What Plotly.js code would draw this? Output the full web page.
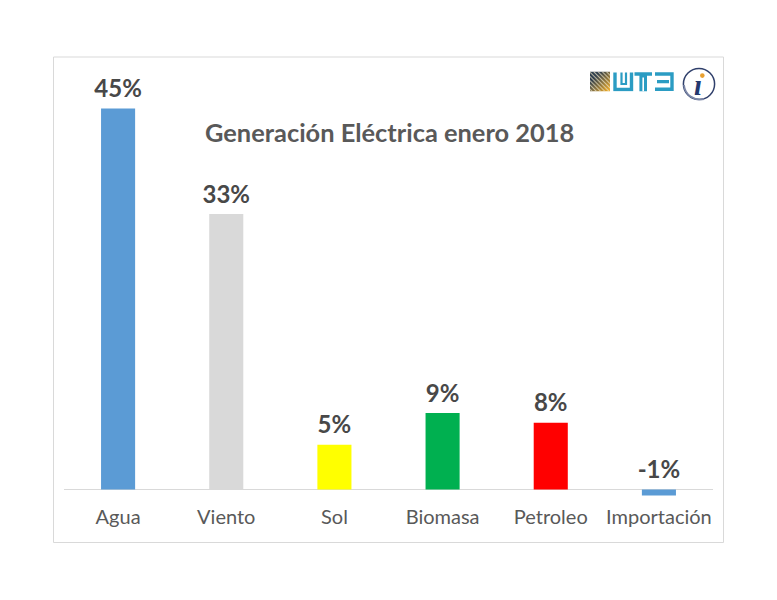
<!DOCTYPE html>
<html>
<head>
<meta charset="utf-8">
<script src="https://cdn.plot.ly/plotly-3.0.1.min.js"></script>
<style>html,body{margin:0;padding:0;background:#fff}#c{width:777px;height:600px}</style>
</head>
<body>
<div id="c"></div>
<script>
const categories = ["Agua","Viento","Sol","Biomasa","Petroleo","Importación"];
const values = [45.1,32.6,5.3,9.05,7.9,-0.7];
const valueLabels = ["45%","33%","5%","9%","8%","-1%"];
const barColors = ["#5b9bd5","#d9d9d9","#ffff00","#00b050","#ff0000","#5b9bd5"];
const titleText = "Generación Eléctrica enero 2018";
const FONT = "Lato, Carlito, sans-serif";

const logoSvg = `<svg xmlns="http://www.w3.org/2000/svg" width="84" height="20" viewBox="0 0 84 20">
<defs><linearGradient id="g" x1="0" y1="0" x2="1" y2="1"><stop offset="0.25" stop-color="#2f3f4f"/><stop offset="0.95" stop-color="#f0ac28"/></linearGradient>
<pattern id="p" width="3" height="3" patternUnits="userSpaceOnUse" patternTransform="rotate(45)"><rect width="3" height="1" fill="#e8dfc0" fill-opacity="0.75"/></pattern></defs>
<rect x="0" y="0" width="20" height="20" fill="url(#g)"/><rect x="0" y="0" width="20" height="20" fill="url(#p)"/>
<g fill="none" stroke="#2b9cc3" stroke-width="3.4">
<path d="M25 1V18H41.5V1"/><path d="M31.5 1V12.5H36V1" stroke-width="2.2"/>
<path d="M44.5 2.5H62"/><path d="M53.2 3V20" stroke-width="7.6"/><path d="M53.2 6V20" stroke="#fff" stroke-width="1.6"/>
<path d="M65 2.5H82V17.8H65"/><path d="M67 10.1H79"/>
</g></svg>`;
const circleSvg = `<svg xmlns="http://www.w3.org/2000/svg" width="36" height="36" viewBox="0 0 36 36">
<circle cx="18" cy="18" r="15.6" fill="none" stroke="#2f3f6b" stroke-width="1.5"/>
<path d="M3 19C4 29 13 35 23 33" fill="none" stroke="#7d88a8" stroke-width="1.8"/>
<circle cx="21.3" cy="9.6" r="2.3" fill="#e8a030"/></svg>`;

const data = [
  {type:"bar", x:categories, y:values, width:0.315,
   marker:{color:barColors}, hoverinfo:"x+y", showlegend:false},
  {type:"scatter", mode:"text+markers", x:categories, y:values.map(v=>Math.max(v,0)),
   marker:{size:7,opacity:0},
   text:valueLabels, textposition:"top center", cliponaxis:false,
   textfont:{family:FONT,size:24,color:"#484848",weight:700},
   hoverinfo:"skip", showlegend:false}
];

const W=777,H=600;
const layout = {
  width:W, height:H, paper_bgcolor:"#fff", plot_bgcolor:"rgba(0,0,0,0)",
  margin:{l:64,r:64,t:60,b:100,pad:0},
  bargap:0.685,
  font:{family:FONT},
  xaxis:{type:"category", categoryorder:"array", categoryarray:categories,
    showgrid:false, showline:false, zeroline:false, ticks:"",
    tickfont:{family:FONT,size:20,color:"#595959"}, ticklabelstandoff:3, fixedrange:true},
  yaxis:{range:[-1.243,50.83], showgrid:false, showticklabels:false, ticks:"",
    zeroline:true, zerolinecolor:"#d9d9d9", zerolinewidth:1.2, showline:false, fixedrange:true},
  shapes:[{type:"rect",xref:"paper",yref:"paper",layer:"below",
    x0:(53.5-64)/649,x1:(723.5-64)/649,y0:(500-542.5)/440,y1:(500-57)/440,
    line:{color:"#d9d9d9",width:1},fillcolor:"rgba(0,0,0,0)"}],
  images:[
    {source:"data:image/svg+xml;utf8,"+encodeURIComponent(logoSvg),xref:"paper",yref:"paper",
     x:(590-64)/649,y:(500-71.5)/440,sizex:84/649,sizey:20/440,xanchor:"left",yanchor:"top",sizing:"stretch"},
    {source:"data:image/svg+xml;utf8,"+encodeURIComponent(circleSvg),xref:"paper",yref:"paper",
     x:(681-64)/649,y:(500-66)/440,sizex:36/649,sizey:36/440,xanchor:"left",yanchor:"top",sizing:"stretch"}
  ],
  annotations:[
    {text:"<b>"+titleText+"</b>",xref:"paper",yref:"paper",showarrow:false,
     x:(389-64)/649,y:(500-132)/440,xanchor:"center",yanchor:"middle",
     font:{family:FONT,size:25.4,color:"#595959"}},
    {text:"<b><i>ı</i></b>",xref:"paper",yref:"paper",showarrow:false,
     x:(698-64)/649,y:(500-85)/440,xanchor:"center",yanchor:"middle",
     font:{family:"Liberation Serif, serif",size:29,color:"#24386e"}}
  ]
};
Plotly.newPlot("c",data,layout,{displayModeBar:false,staticPlot:true});
</script>
</body>
</html>
